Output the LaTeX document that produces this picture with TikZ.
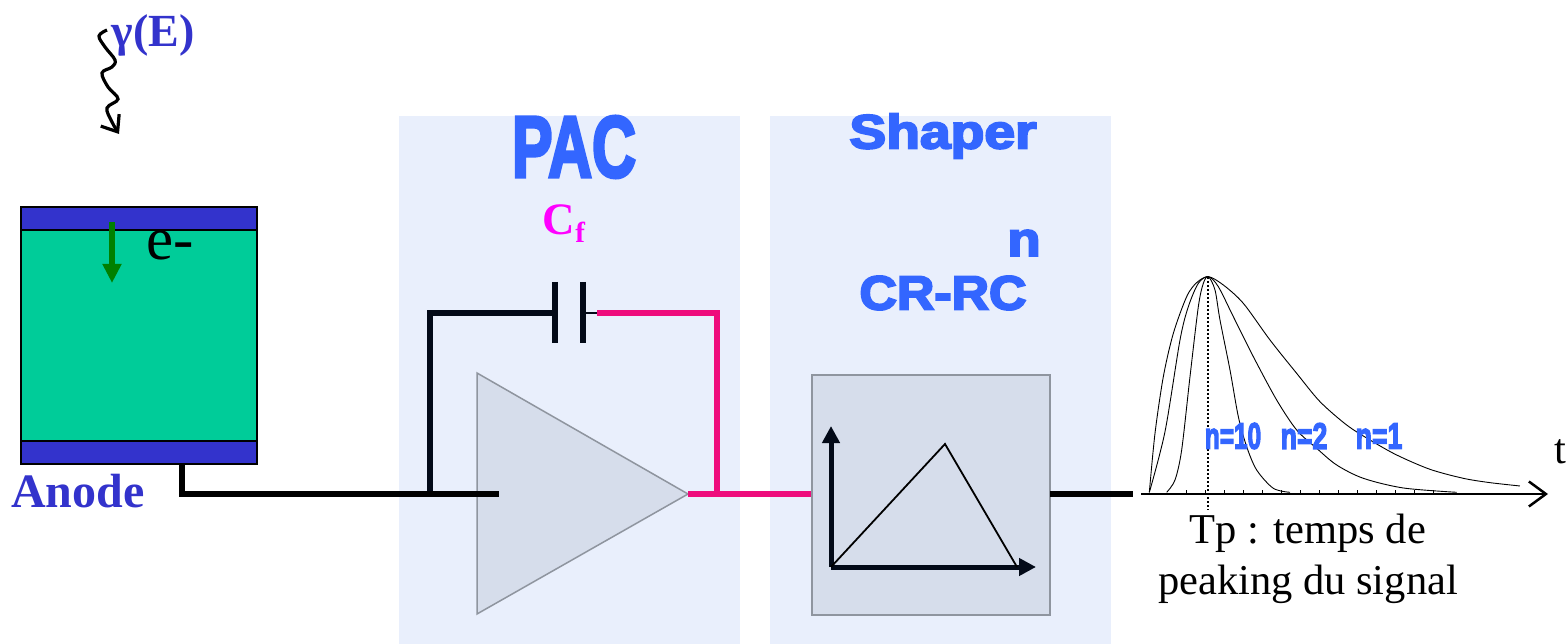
\documentclass[tikz,border=0pt]{standalone}
\usepackage{fontspec}
\usepackage{graphicx}
\setmainfont{Liberation Serif}
\newfontfamily\heavyfont[UprightFont={* Bold},UprightFeatures={FakeBold=4}]{Liberation Sans}
\definecolor{detgreen}{RGB}{0,204,153}
\definecolor{detblue}{RGB}{51,51,204}
\definecolor{paneblue}{RGB}{233,239,252}
\definecolor{boxgrey}{RGB}{214,221,235}
\definecolor{edgegrey}{RGB}{143,149,159}
\definecolor{titleblue}{RGB}{51,102,255}
\definecolor{wirepink}{RGB}{238,12,124}
\definecolor{wireblack}{RGB}{3,10,24}
\definecolor{arrowgreen}{RGB}{0,128,0}
\definecolor{cfmagenta}{RGB}{255,0,255}
\usetikzlibrary{arrows.meta,calc,positioning}
\newcommand{\heavytext}[3]{\scalebox{#1}[1]{\fontsize{#2}{#2}\selectfont\heavyfont #3}}
\tikzset{
    pane/.style={fill=paneblue, inner sep=0pt, outer sep=0pt, minimum width=341pt, minimum height=528pt},
    band/.style={draw=black, line width=2pt, fill=detblue, inner sep=0pt, outer sep=0pt, minimum width=236pt, minimum height=23pt},
    bluetitle/.style={text=titleblue, inner sep=0pt},
    serif/.style={inner sep=0pt, font=\fontsize{42.5}{50}\selectfont},
    wire/.style={line width=5.5pt},
    curve/.style={line width=0.9pt}
}

\begin{document}
\begin{tikzpicture}[x=1pt,y=-1pt]
    \useasboundingbox (0,0) rectangle (1567,644);

    % panes behind the two stages
    \node[pane] (pacpane) at (569.5,380) {};
    \node[pane] (shaperpane) at (940.5,380) {};

    % detector
    \node[draw=black, line width=2pt, fill=detgreen, inner sep=0pt, outer sep=0pt, minimum width=236pt, minimum height=257pt] (det) at (139,335.5) {};
    \node[band, anchor=north] (cathode) at (det.north) {};
    \node[band, anchor=south] (anodeband) at (det.south) {};
    \draw[arrowgreen, line width=6pt, -{Triangle[length=19pt,width=18pt]}] (112,222) coordinate (estart) -- (112,283) coordinate (eend);
    \node[serif, font=\fontsize{61}{64}\selectfont] (eminus) at (170,245) {e-};
    \node[text=detblue, inner sep=0pt, font=\fontsize{48}{50}\bfseries\selectfont] (anodelabel) at (78,491) {Anode};

    % incoming photon
    \node[text=detblue, inner sep=0pt, font=\fontsize{46}{50}\bfseries\selectfont] (gamma) at (153,35) {γ(E)};
    \draw[line width=3.2pt, -{Straight Barb[length=14pt,width=22pt]}] plot[smooth, tension=0.6] coordinates {(107,30) (99,36) (105,47) (115,60) (112,67) (102,73) (108,87) (118,99) (107,108) (112,122) (119,134)};

    % amplifier
    \coordinate (amptop) at (477,373);
    \coordinate (ampbot) at (477,614);
    \coordinate (amptip) at (688,494);
    \draw[fill=boxgrey, draw=edgegrey, line width=1.5pt] (amptop) -- (amptip) -- (ampbot) -- cycle;
    \node[bluetitle] (pactitle) at (574,147) {\heavytext{0.7}{87}{PAC}};
    \node[text=cfmagenta, inner sep=0pt, font=\fontsize{45}{48}\bfseries\selectfont] (cflabel) at (564,224) {C\raisebox{-8pt}{\fontsize{29}{30}\selectfont f}};

    % feedback capacitor
    \coordinate (capleft) at (555,313);
    \coordinate (capright) at (583,313);
    \coordinate (ampin) at (499,494);
    \coordinate (junction) at (430,494);
    \coordinate (outjunction) at (717,494);
    \coordinate (anodefoot) at (182,464);
    \coordinate (anodebend) at (182,494);
    \draw[wireblack, line width=6pt] (555,282) -- (555,343);
    \draw[wireblack, line width=6pt] (583,282) -- (583,343);
    \draw[wireblack, line width=1.5pt] (capright) -- ++(14,0);
    \draw[wireblack, wire] (junction) -- (junction |- capleft) -- (capleft);
    \draw[wirepink, wire] (outjunction) -- (outjunction |- capright) -- ($(capright)+(14,0)$);

    % wires
    \draw[black, wire] (anodefoot) -- (anodebend) -- (ampin);
    \draw[wirepink, wire] (amptip) -- (812,494);

    % shaper
    \node[bluetitle] (shapertitle) at (943,136) {\heavytext{1.15}{48}{Shaper}};
    \node[bluetitle] (ordern) at (1024,243) {\heavytext{1.13}{48}{n}};
    \node[bluetitle] (crrc) at (943,293) {\heavytext{1.08}{48}{CR-RC}};
    \node[draw=edgegrey, fill=boxgrey, line width=1.5pt, inner sep=0pt, outer sep=0pt, minimum width=238pt, minimum height=240pt] (shaperbox) at (931,495) {};
    \coordinate (shorigin) at (831,567);
    \coordinate (shaperout) at (1050,494);
    \coordinate (outend) at (1133,494);
    \draw[wireblack, line width=5pt, -{Triangle[length=17pt,width=17pt]}] (shorigin) -- (831,426);
    \draw[wireblack, line width=5pt, -{Triangle[length=17pt,width=17pt]}] (shorigin) -- (1036,567);
    \draw[black, line width=1.8pt] (shorigin) -- (945,444) -- (1017,567);
    \draw[black, wire] (shaperout) -- (outend);

    % output pulses
    \coordinate (taxisstart) at (1141,494);
    \coordinate (taxisend) at (1548,494);
    \draw[black, line width=2.5pt, -{Straight Barb[length=17pt,width=25pt]}] (taxisstart) -- (taxisend);
    \foreach \xtick in {1186,1205,...,1450}
        \draw[black, line width=0.5pt] (\xtick,494) -- (\xtick,490);
    \begin{scope}[shift={(1130,260)}, x=0.3333pt, y=-0.3333pt]
        \draw[curve] plot[smooth, tension=0.5] coordinates {(58,697) (75,520) (100,350) (130,220) (170,110) (200,68) (235,50) (280,75) (340,130) (420,240) (500,340) (570,425) (650,495) (720,540) (800,585) (900,628) (1000,655) (1080,668) (1170,678)};
        \draw[curve] plot[smooth, tension=0.5] coordinates {(58,697) (105,515) (150,240) (175,140) (205,70) (235,50) (265,80) (310,170) (370,290) (440,420) (500,510) (560,565) (620,615) (700,655) (820,684) (980,697)};
        \draw[curve] plot[smooth, tension=0.5] coordinates {(110,697) (135,660) (155,570) (180,350) (205,140) (220,70) (235,50) (255,90) (270,180) (300,330) (325,470) (350,560) (380,630) (430,685) (480,697)};
    \end{scope}
    \draw[black, line width=2pt, dotted] (1208,277) -- (1208,510);
    \node[bluetitle] (nten) at (1233,436) {\heavytext{0.66}{37}{n=10}};
    \node[bluetitle] (ntwo) at (1304,436) {\heavytext{0.72}{37}{n=2}};
    \node[bluetitle] (none) at (1379,436) {\heavytext{0.72}{37}{n=1}};
    \node[serif] (tlabel) at (1560,452) {t};
    \node[serif] (tpline) at (1308,533) {Tp : temps de};
    \node[serif] (peakline) at (1308,584) {peaking du signal};
\end{tikzpicture}
\end{document}
